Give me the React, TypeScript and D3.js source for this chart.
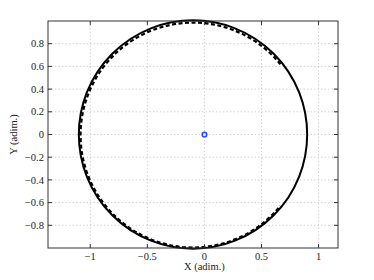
import React from 'react';
import * as d3 from 'd3';

// axis ticks
const xTicks = [-1, -0.5, 0, 0.5, 1];
const yTicks = [-0.8, -0.6, -0.4, -0.2, 0, 0.2, 0.4, 0.6, 0.8];

// solid orbit: center x, center y, radius
const solidCenter = [-0.1, 0];
const solidRadius = [1.0];

// dashed orbit: center, radius, start/end angle (deg, math convention)
const dashedCenter = [-0.1, -0.005];
const dashedRadius = [0.985];
const dashedAngles = [39, 321];

// marker
const markerPoint = [0, 0];

const W = 374, H = 280;
const margin = { top: 21, right: 36, bottom: 32, left: 48 };

export default function App() {
  const innerW = W - margin.left - margin.right;
  const innerH = H - margin.top - margin.bottom;

  const x = d3.scaleLinear().domain([-1.37, 1.17]).range([0, innerW]);
  const y = d3.scaleLinear().domain([-1, 1]).range([innerH, 0]);

  const fmt = (v: number) => (v < 0 ? '\u2212' + String(Math.abs(v)) : String(v));

  // solid circle
  const sp = d3.path();
  const sr = x(solidRadius[0]) - x(0);
  sp.arc(x(solidCenter[0]), y(solidCenter[1]), sr, 0, Math.PI * 2);

  // dashed arc: screen angles are negated (y flips)
  const dp = d3.path();
  const dr = x(dashedRadius[0]) - x(0);
  const a0 = (-dashedAngles[0] * Math.PI) / 180;
  const a1 = (-dashedAngles[1] * Math.PI) / 180;
  dp.arc(x(dashedCenter[0]), y(dashedCenter[1]), dr, a0, a1, true);

  const font = "'Liberation Serif', 'DejaVu Serif', serif";
  const tickLen = 4;

  return (
    <svg width={W} height={H} style={{ position: 'absolute', left: 0, top: 0, background: '#fff' }}>
      <g transform={`translate(${margin.left},${margin.top})`}>
        {/* grid */}
        {xTicks.map((t) => (
          <line key={'gx' + t} x1={x(t)} x2={x(t)} y1={0} y2={innerH}
            stroke="#c8c8c8" strokeWidth={0.8} strokeDasharray="1.5,2" />
        ))}
        {yTicks.map((t) => (
          <line key={'gy' + t} x1={0} x2={innerW} y1={y(t)} y2={y(t)}
            stroke="#c8c8c8" strokeWidth={0.8} strokeDasharray="1.5,2" />
        ))}

        {/* curves */}
        <path d={sp.toString()} fill="none" stroke="#000" strokeWidth={2} />
        <path d={dp.toString()} fill="none" stroke="#000" strokeWidth={2.2} strokeDasharray="4,2.5" />

        {/* marker */}
        <circle cx={x(markerPoint[0])} cy={y(markerPoint[1])} r={2.3}
          fill="none" stroke="#2a4dff" strokeWidth={1.6} />

        {/* box */}
        <rect x={0} y={0} width={innerW} height={innerH} fill="none" stroke="#333" strokeWidth={1} />

        {/* ticks */}
        {xTicks.map((t) => (
          <g key={'tx' + t}>
            <line x1={x(t)} x2={x(t)} y1={innerH} y2={innerH - tickLen} stroke="#333" />
            <line x1={x(t)} x2={x(t)} y1={0} y2={tickLen} stroke="#333" />
            <text x={x(t)} y={innerH + 12} textAnchor="middle" fontFamily={font} fontSize={10.5} fill="#222">
              {fmt(t)}
            </text>
          </g>
        ))}
        {yTicks.map((t) => (
          <g key={'ty' + t}>
            <line x1={0} x2={tickLen} y1={y(t)} y2={y(t)} stroke="#333" />
            <line x1={innerW} x2={innerW - tickLen} y1={y(t)} y2={y(t)} stroke="#333" />
            <text x={-4} y={y(t)} dy="0.35em" textAnchor="end" fontFamily={font} fontSize={10.5} fill="#222">
              {fmt(t)}
            </text>
          </g>
        ))}

        {/* axis labels */}
        <text x={x(0)} y={innerH + 22} textAnchor="middle" fontFamily={font} fontSize={10.5} fill="#222">
          X (adim.)
        </text>
        <text transform={`translate(${-31},${y(0)}) rotate(-90)`} textAnchor="middle"
          fontFamily={font} fontSize={10.5} fill="#222">
          Y (adim.)
        </text>
      </g>
    </svg>
  );
}
